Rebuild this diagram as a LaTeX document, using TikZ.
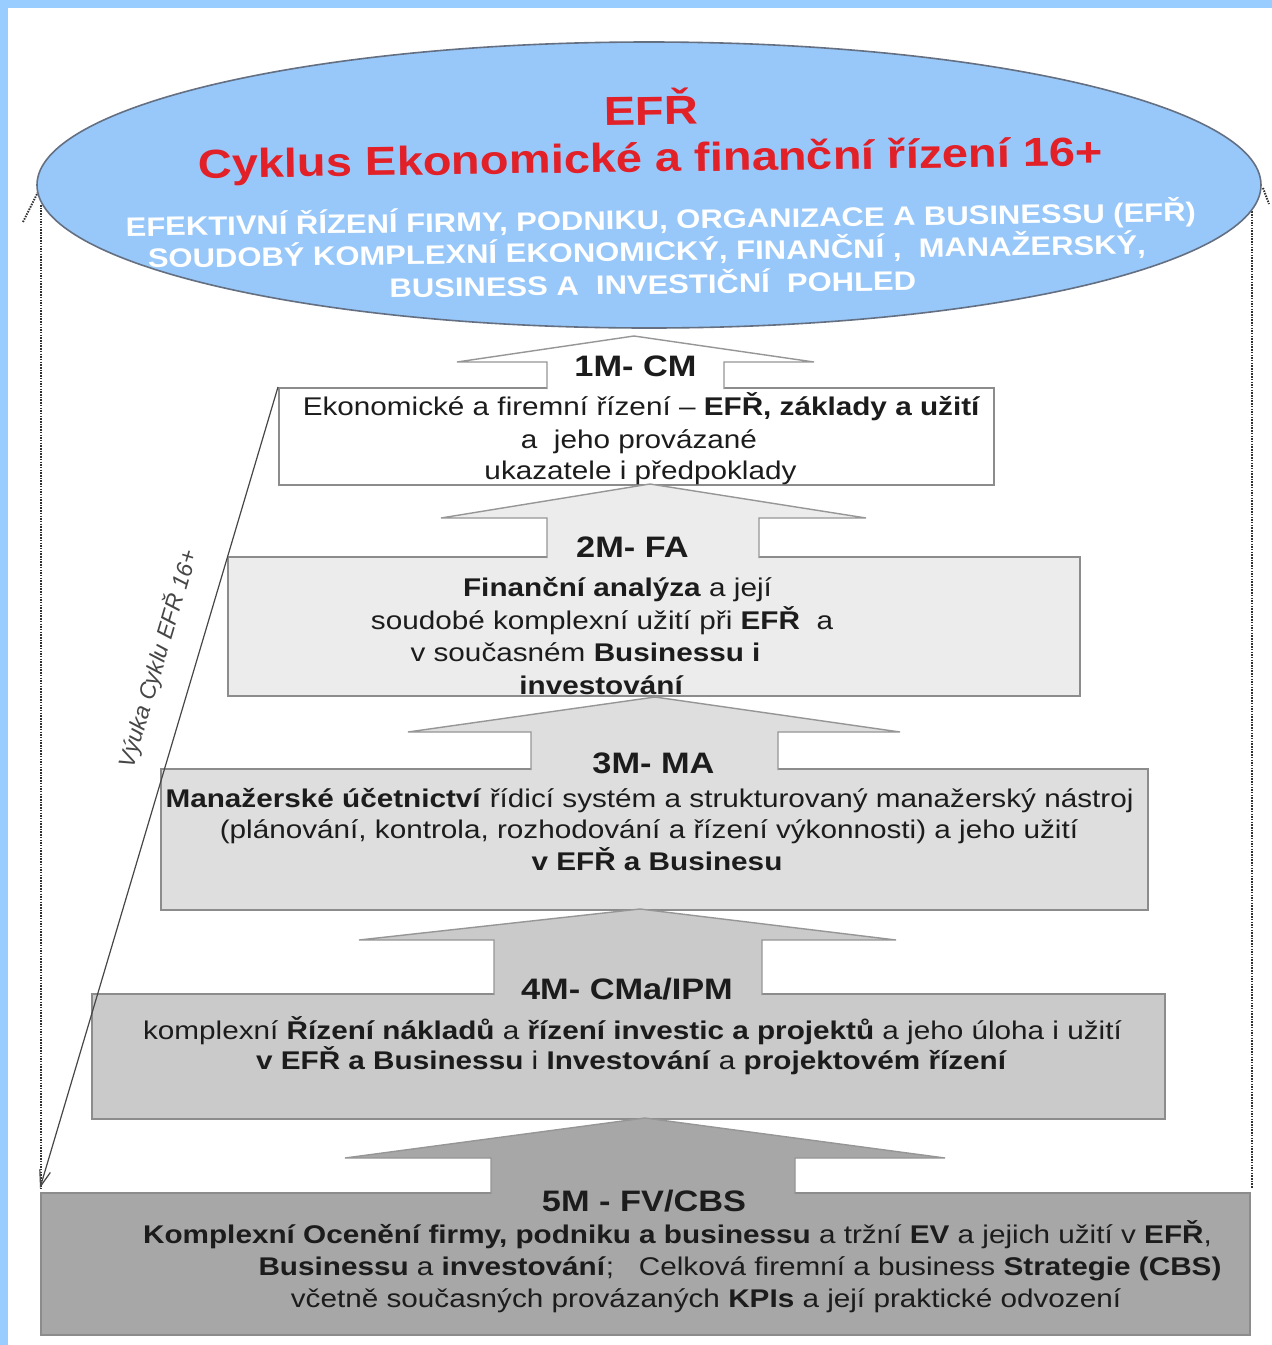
\documentclass[tikz,border=0pt]{standalone}
\usepackage{fontspec}
\setmainfont{Liberation Sans}[FakeStretch=1.16]
\newfontfamily\diagfont{Liberation Sans}
\usetikzlibrary{shapes.geometric,arrows.meta}
\definecolor{bgblue}{RGB}{153,204,255}
\definecolor{ellfill}{RGB}{152,200,250}
\definecolor{elldraw}{RGB}{100,112,130}
\definecolor{efrred}{RGB}{226,32,40}
\definecolor{boxline}{RGB}{140,140,140}
\definecolor{arrline}{RGB}{150,150,150}
\definecolor{fa}{RGB}{255,255,255}
\definecolor{fb}{RGB}{236,236,236}
\definecolor{fc}{RGB}{222,222,222}
\definecolor{fd}{RGB}{202,202,202}
\definecolor{fe}{RGB}{167,167,167}
\definecolor{txtc}{RGB}{28,28,28}
\definecolor{diagc}{RGB}{70,70,70}
\definecolor{dotc}{RGB}{50,50,50}
% tip x, tip y, head base y, head left x, head right x, shaft left x, shaft right x, shaft bottom y, fill
\newcommand{\uparr}[9]{%
  \fill[#9] (#1,#2) -- (#5,#3) -- (#7,#3) -- (#7,#8) -- (#6,#8) -- (#6,#3) -- (#4,#3) -- cycle;
  \draw[arr] (#6,#8) -- (#6,#3) -- (#4,#3) -- (#1,#2) -- (#5,#3) -- (#7,#3) -- (#7,#8);}
\tikzset{
  boxst/.style={draw=boxline, line width=1.6pt, anchor=north west, inner sep=0pt},
  arr/.style={draw=arrline, line width=1.4pt, line join=miter},
  body/.style={anchor=base, inner sep=0pt, text=txtc, font=\fontsize{25.6}{30}\selectfont},
  ttl/.style={anchor=base, inner sep=0pt, text=txtc, font=\fontsize{29.6}{34}\selectfont\bfseries},
  redt/.style={anchor=base, inner sep=0pt, text=efrred, font=\fontsize{40.5}{46}\selectfont\bfseries, rotate=0.8},
  wht/.style={anchor=base, inner sep=0pt, text=white, font=\fontsize{26.7}{30}\selectfont\bfseries, rotate=0.8},
  dots/.style={draw=dotc, line width=2pt, dash pattern=on 1.5pt off 1.2pt},
}
\begin{document}
\begin{tikzpicture}[x=1pt,y=-1pt]
\useasboundingbox (0,0) rectangle (1272,1345);
\fill[bgblue] (0,0) rectangle (1272,1345);
\fill[white] (8,8) rectangle (1272,1345);

% dotted side lines
\draw[dots] (23,222) -- (39,190);
\draw[dots] (40.5,205) -- (40.5,1188);
\draw[dots] (1263,188) -- (1269,204);
\draw[dots] (1252,206) -- (1252,1188);

% ellipse
\node[ellipse, draw=elldraw, line width=1.6pt, fill=ellfill, minimum width=1224pt, minimum height=286pt, inner sep=0pt] (ell) at (649,185) {};
\node[redt] (efr) at (651,125) {EFŘ};
\node[redt] (cyk) at (651,172) {Cyklus Ekonomické a finanční řízení 16+};
\node[wht] (w1) at (661,229) {EFEKTIVNÍ ŘÍZENÍ FIRMY, PODNIKU, ORGANIZACE A BUSINESSU (EFŘ)};
\node[wht] (w2) at (647,261) {SOUDOBÝ KOMPLEXNÍ EKONOMICKÝ, FINANČNÍ ,\ \ MANAŽERSKÝ,};
\node[wht] (w3) at (653,294) {BUSINESS A\ \ INVESTIČNÍ\ \ POHLED};

% boxes, each followed by the up arrow standing on it
\node[boxst, fill=fa, minimum width=715pt, minimum height=97pt] (box1) at (278,387) {};
\uparr{634}{336}{362}{457}{814}{547}{724}{389}{fa}
\node[boxst, fill=fb, minimum width=852pt, minimum height=139pt] (box2) at (227,556) {};
\uparr{650}{484}{518}{441}{866}{547}{759}{558}{fb}
\node[boxst, fill=fc, minimum width=987pt, minimum height=141pt] (box3) at (160,768) {};
\uparr{655}{697}{732}{408}{900}{531}{778}{770}{fc}
\node[boxst, fill=fd, minimum width=1073pt, minimum height=125pt] (box4) at (91,993) {};
\uparr{640}{909}{940}{359}{896}{494}{762}{995}{fd}
\node[boxst, fill=fe, minimum width=1209pt, minimum height=142pt] (box5) at (40,1192) {};
\uparr{645}{1118}{1158}{345}{945}{491}{795}{1194}{fe}

% diagonal connector
\coordinate (vend) at (40,1188);
\draw[draw=diagc, line width=1.2pt, -{Straight Barb[length=16pt,width=11pt]}] (box1.north west) -- (vend);
\node[rotate=73.45, inner sep=0pt, text=diagc, font=\diagfont\itshape\fontsize{23}{26}\selectfont] (vyuka) at (158,659) {Výuka Cyklu EFŘ 16+};

% titles
\node[ttl] (t1) at (635.5,376) {1M- CM};
\node[ttl] (t2) at (632.5,557) {2M- FA};
\node[ttl] (t3) at (653.5,773) {3M- MA};
\node[ttl] (t4) at (627,999) {4M- CMa/IPM};
\node[ttl] (t5) at (644,1211) {5M - FV/CBS};

% box 1 text
\node[body] (a1) at (641.5,415) {Ekonomické a firemní řízení – \textbf{EFŘ, základy a užití}};
\node[body] (a2) at (639,448) {a\ \ jeho provázané};
\node[body] (a3) at (640.5,479) {ukazatele i předpoklady};

% box 2 text
\node[body] (b1) at (617.5,596) {\textbf{Finanční analýza} a její};
\node[body] (b2) at (602,629) {soudobé komplexní užití při \textbf{EFŘ}\ \ a};
\node[body] (b3) at (585.5,661) {v současném \textbf{Businessu i}};
\node[body] (b4) at (601.5,694) {\textbf{investování}};

% box 3 text
\node[body] (c1) at (649.5,807) {\textbf{Manažerské účetnictví} řídicí systém a strukturovaný manažerský nástroj};
\node[body] (c2) at (649,838) {(plánování, kontrola, rozhodování a řízení výkonnosti) a jeho užití};
\node[body] (c3) at (657,870) {\textbf{v EFŘ a Businesu}};

% box 4 text
\node[body] (d1) at (632.5,1039) {komplexní \textbf{Řízení nákladů} a \textbf{řízení investic a projektů} a jeho úloha i užití};
\node[body] (d2) at (631.5,1069) {\textbf{v EFŘ a Businessu} i \textbf{Investování} a \textbf{projektovém řízení}};

% box 5 text
\node[body] (e1) at (677.5,1243) {\textbf{Komplexní Ocenění firmy, podniku a businessu} a tržní \textbf{EV} a jejich užití v \textbf{EFŘ},};
\node[body] (e2) at (740,1275) {\textbf{Businessu} a \textbf{investování};\ \ \ Celková firemní a business \textbf{Strategie (CBS)}};
\node[body] (e3) at (706,1307) {včetně současných provázaných \textbf{KPIs} a její praktické odvození};
\end{tikzpicture}
\end{document}
